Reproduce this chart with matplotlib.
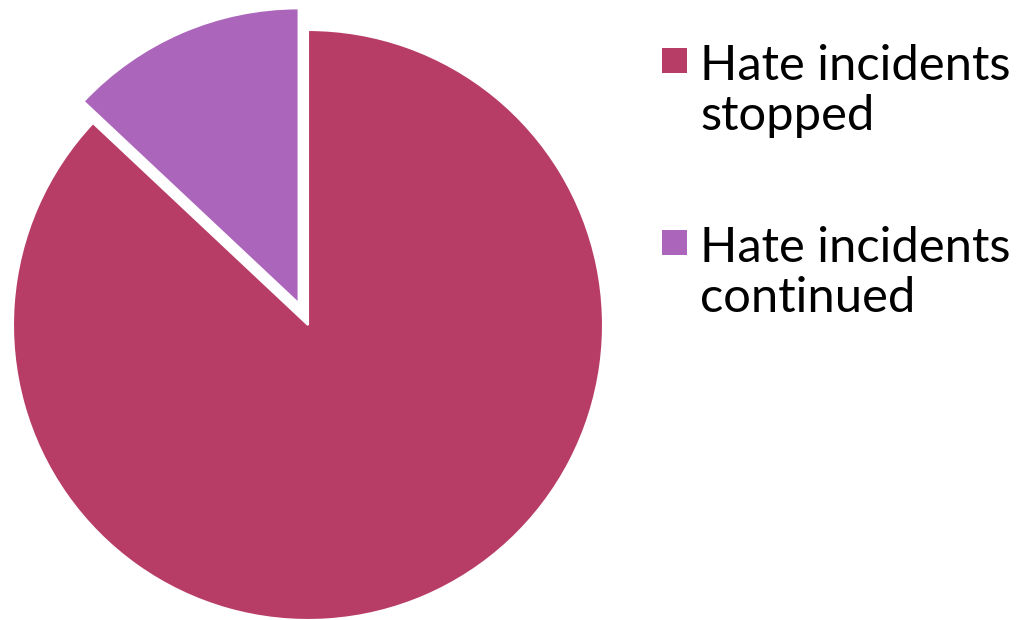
import matplotlib.pyplot as plt
from matplotlib.patches import Rectangle

labels = ['Hate incidents\nstopped', 'Hate incidents\ncontinued']
shares = [87, 13]
colors = ['#B83D66', '#AB66BB']
explode = [0, 0.08]

plt.rcParams['font.family'] = ['Lato', 'DejaVu Sans']

W, H = 1018, 620
fig = plt.figure(figsize=(W / 100, H / 100), dpi=100)
ax = fig.add_axes([0, 0, 1, 1])

# purple slice starts at the top and goes counter-clockwise
wedges, _ = ax.pie(shares[::-1], colors=colors[::-1], explode=explode[::-1],
                   startangle=90, counterclock=True,
                   wedgeprops={'edgecolor': 'white', 'linewidth': 1.5})
ax.set_xlim(-308 / 295, (W - 308) / 295)
ax.set_ylim(-1, (H - 295) / 295)
ax.set_aspect('auto')
ax.axis('off')

# legend drawn by hand so the square sits on the first line
for i, (lab, col) in enumerate(zip(labels, colors)):
    top = 48 + i * 182
    fig.patches.append(Rectangle((662 / W, 1 - (top + 25) / H), 25 / W, 25 / H,
                                 transform=fig.transFigure, facecolor=col,
                                 edgecolor='none'))
    # va='baseline' puts the last line on this baseline
    fig.text(700 / W, 1 - (top + 82) / H, lab, fontsize=35.2,
             va='baseline', ha='left', linespacing=1.17, color='black')

fig.savefig('out.png', dpi=100)
